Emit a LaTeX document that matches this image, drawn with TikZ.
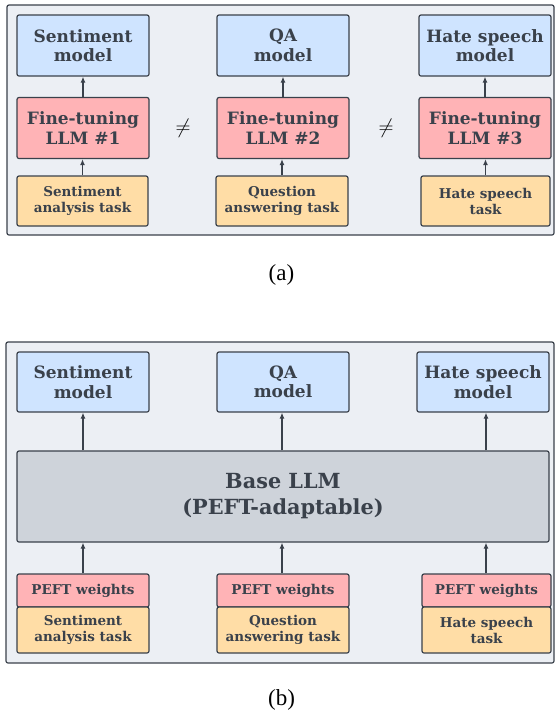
\documentclass[tikz,border=0pt]{standalone}
\usepackage{fontspec}
\setmainfont{DejaVu Serif}
\newfontfamily\capfont{Liberation Serif}
\usetikzlibrary{arrows.meta}
\definecolor{panelbg}{HTML}{ECEFF4}
\definecolor{strokec}{HTML}{3A414B}
\definecolor{bluec}{HTML}{CFE4FF}
\definecolor{redc}{HTML}{FFB3B6}
\definecolor{orangec}{HTML}{FFDDA6}
\definecolor{grayc}{HTML}{CED3DA}
\tikzset{
  panel/.style={draw=strokec, fill=panelbg, line width=1.2pt, rounded corners=2pt},
  box/.style={draw=strokec, line width=1.2pt, rounded corners=2pt, text=strokec, align=center, inner sep=0pt},
  bigtxt/.style={font=\fontsize{17}{19.5}\selectfont\bfseries},
  smalltxt/.style={font=\fontsize{13.5}{16}\selectfont\bfseries},
  basetxt/.style={font=\fontsize{20.8}{26}\selectfont\bfseries},
  arr/.style={draw=strokec, line width=1.2pt, -{Latex[length=6pt,width=5pt]}},
  captxt/.style={font=\capfont\fontsize{23}{25}\selectfont, anchor=base},
}
\begin{document}
\begin{tikzpicture}[x=1pt,y=-1pt]
\useasboundingbox (0,0) rectangle (555,713);
% ---------- panel (a)
\draw[panel] (7,5) rectangle (554,235);
% blue
\node[box,bigtxt,fill=bluec,minimum width=132pt,minimum height=61pt] (m1) at (83,45.5) {Sentiment\\model};
\node[box,bigtxt,fill=bluec,minimum width=132pt,minimum height=61pt] (m2) at (283,45.5) {QA\\model};
\node[box,bigtxt,fill=bluec,minimum width=132pt,minimum height=61pt] (m3) at (485,45.5) {Hate speech\\model};
% red
\node[box,bigtxt,fill=redc,minimum width=132pt,minimum height=61pt] (f1) at (83,128) {Fine-tuning\\LLM \#1};
\node[box,bigtxt,fill=redc,minimum width=132pt,minimum height=61pt] (f2) at (283,128) {Fine-tuning\\LLM \#2};
\node[box,bigtxt,fill=redc,minimum width=132pt,minimum height=61pt] (f3) at (485,128) {Fine-tuning\\LLM \#3};
% orange
\node[box,smalltxt,fill=orangec,minimum width=131pt,minimum height=50pt] (t1) at (82.5,201) {Sentiment\\analysis task};
\node[box,smalltxt,fill=orangec,minimum width=132pt,minimum height=50pt] (t2) at (282,201) {Question\\answering task};
\node[box,smalltxt,fill=orangec,minimum width=129pt,minimum height=50pt] (t3) at (485.5,201) {Hate speech\\task};
\draw[arr] (f1) -- (m1);
\draw[arr] (f2) -- (m2);
\draw[arr] (f3) -- (m3);
\draw[arr] (t1) -- (t1 |- f1.south);
\draw[arr] (t2) -- (t2 |- f2.south);
\draw[arr] (t3) -- (t3 |- f3.south);
\node[font=\fontsize{21}{21}\selectfont] (ne1) at (183,128) {$\neq$};
\node[font=\fontsize{21}{21}\selectfont] (ne2) at (386,128) {$\neq$};
\node[captxt] (capa) at (281.5,280.5) {(a)};
% ---------- panel (b)
\draw[panel] (6,342) rectangle (554,663);
\node[box,bigtxt,fill=bluec,minimum width=132pt,minimum height=60pt] (n1) at (83,382) {Sentiment\\model};
\node[box,bigtxt,fill=bluec,minimum width=132pt,minimum height=60pt] (n2) at (283,382) {QA\\model};
\node[box,bigtxt,fill=bluec,minimum width=132pt,minimum height=60pt] (n3) at (483,382) {Hate speech\\model};
\node[box,basetxt,fill=grayc,minimum width=532pt,minimum height=91pt] (base) at (283,496.5) {Base LLM\\(PEFT-adaptable)};
\node[box,smalltxt,fill=redc,minimum width=132pt,minimum height=33pt] (p1) at (83,590.5) {PEFT weights};
\node[box,smalltxt,fill=redc,minimum width=132pt,minimum height=33pt] (p2) at (283,590.5) {PEFT weights};
\node[box,smalltxt,fill=redc,minimum width=129pt,minimum height=33pt] (p3) at (486.5,590.5) {PEFT weights};
\node[box,smalltxt,fill=orangec,minimum width=132pt,minimum height=46pt] (s1) at (83,630) {Sentiment\\analysis task};
\node[box,smalltxt,fill=orangec,minimum width=132pt,minimum height=46pt] (s2) at (283,630) {Question\\answering task};
\node[box,smalltxt,fill=orangec,minimum width=129pt,minimum height=46pt] (s3) at (486.5,630) {Hate speech\\task};
\draw[arr] (base.north -| n1) -- (n1);
\draw[arr] (base.north -| 282,0) -- (282,0 |- n2.south);
\draw[arr] (base.north -| 486,0) -- (486,0 |- n3.south);
\draw[arr] (p1) -- (p1 |- base.south);
\draw[arr] (p2.north -| 282,0) -- (282,0 |- base.south);
\draw[arr] (p3.north -| 486,0) -- (486,0 |- base.south);
\node[captxt] (capb) at (281.5,705) {(b)};
\end{tikzpicture}
\end{document}
